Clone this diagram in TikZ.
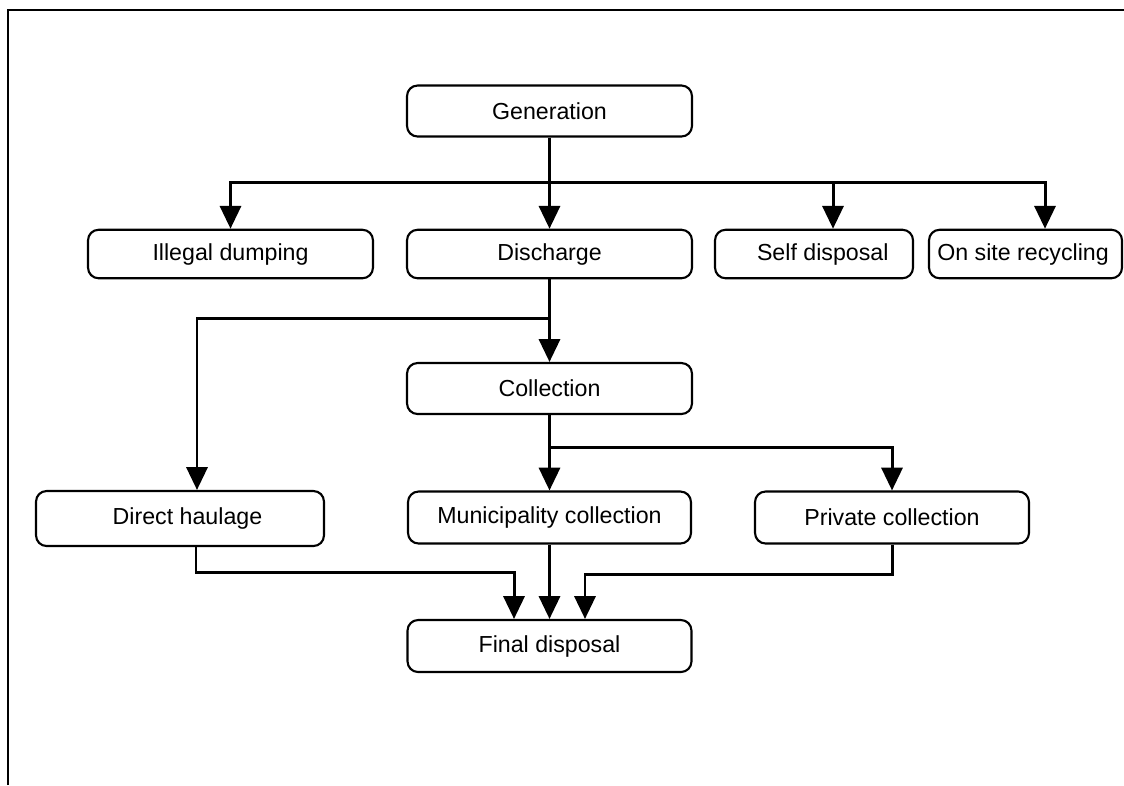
\documentclass[tikz,border=0pt]{standalone}
\usepackage{fontspec}
\setmainfont{Liberation Sans}
\usepackage{tikz}
\usetikzlibrary{arrows.meta,positioning}
\tikzset{%
  font=\fontsize{13.2}{15}\selectfont,>={Triangle[length=13pt,width=12pt]},
  block/.style = { rectangle, draw, line width=1.2pt, rounded corners=6pt, text centered, inner sep=2pt, minimum height=1.02cm },
  line/.style  = { draw, line width=1.7pt, ->, line join=miter },
  frame/.style = { draw, line width=1.2pt }
}
\begin{document}
\begin{tikzpicture}[x=0.02cm,y=-0.02cm]
	\useasboundingbox (0,0) rectangle (1124,785);
	\draw[frame] (8,785) -- (8,10) -- (1124,10);
	% top row
	\node[block,minimum width=5.7cm] (gen) at (549.5,111) {Generation};
	\node[block,minimum width=5.7cm,minimum height=0.97cm] (ill) at (230.5,254) {Illegal dumping};
	\node[block,minimum width=5.7cm,minimum height=0.97cm] (dis) at (549.5,254) {Discharge};
	\node[block,minimum width=3.96cm,minimum height=0.97cm] (self) at (814,254) {\hspace*{0.35cm}Self disposal};
	\node[block,minimum width=3.86cm,minimum height=0.97cm] (site) at (1025.5,254) {On site recycling\hspace*{0.1cm}};
	% middle
	\node[block,minimum width=5.7cm] (col) at (549.5,388.5) {Collection};
	\node[block,minimum width=5.76cm,minimum height=1.1cm] (haul) at (180,518.5) {\hspace*{0.3cm}Direct haulage};
	\node[block,minimum width=5.66cm,minimum height=1.04cm] (muni) at (549.5,517.5) {Municipality collection};
	\node[block,minimum width=5.48cm,minimum height=1.04cm] (priv) at (892,517.5) {Private collection};
	\node[block,minimum width=5.68cm,minimum height=1.04cm] (fin) at (549.5,646) {Final disposal};
	% branch points
	\coordinate (b1) at (549.5,182);
	\coordinate (b2) at (549.5,318);
	\coordinate (b3) at (549.5,447);
	\draw[line] (gen) -- (dis);
	\draw[line] (b1) -| (ill);
	\draw[line] (b1) -| ([xshift=0.38cm]self.north);
	\draw[line] (b1) -| ([xshift=0.39cm]site.north);
	\draw[line] (dis) -- (col);
	\draw[line] (b2) -| ([xshift=0.34cm]haul.north);
	\draw[line] (col) -- (muni);
	\draw[line] (b3) -| (priv);
	\draw[line] (muni) -- (fin);
	\draw[line] ([xshift=0.32cm]haul.south) -- ++(0,25) -| ([xshift=-0.71cm]fin.north);
	\draw[line] (priv.south) -- ++(0,30) -| ([xshift=0.71cm]fin.north);
\end{tikzpicture}
\end{document}
